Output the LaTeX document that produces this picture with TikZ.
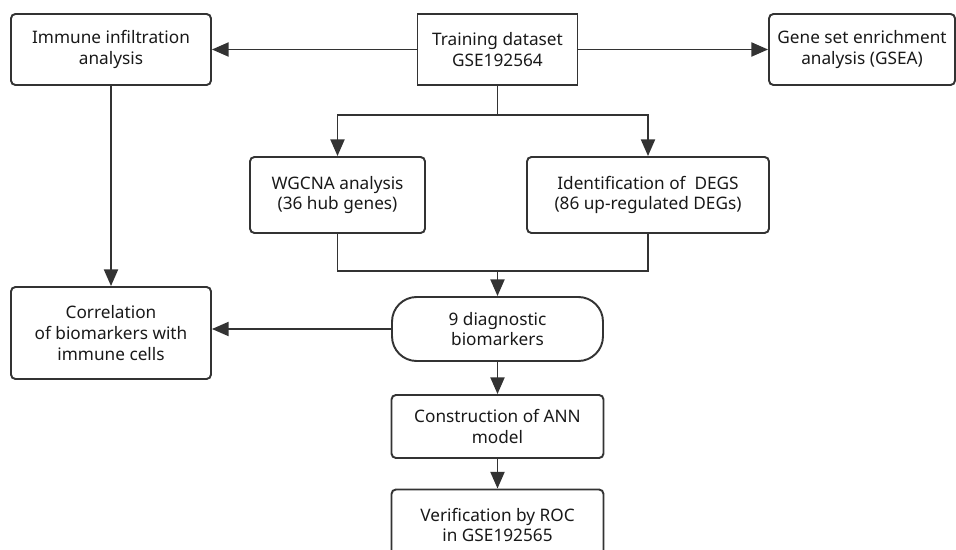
\documentclass[tikz,border=0pt]{standalone}
\usepackage{fontspec}
\setmainfont{Noto Sans}
\usetikzlibrary{arrows.meta}

\begin{document}
\begin{tikzpicture}[x=0.02cm,y=-0.02cm]
\tikzstyle{every node}+=[inner sep=0pt,align=center,font=\fontsize{9.8}{11.8}\selectfont,text=black!90]
\tikzstyle{box}=[draw=black!80,line width=1.1pt,rounded corners=2.5pt,minimum height=1.42cm]
\tikzstyle{sqbox}=[draw=black!80,line width=1.1pt,minimum height=1.42cm]
\tikzstyle{term}=[draw=black!80,line width=1.1pt,rounded corners=14pt,minimum height=1.28cm]
\tikzstyle{arr}=[draw=black!80,line width=1.1pt,-{Triangle[length=9.5pt,width=8pt]}]
\tikzstyle{line}=[draw=black!80,line width=1.1pt]
\useasboundingbox (0,0) rectangle (956,550);
\clip (0,0) rectangle (956,550);
\node [box,minimum width=4cm] (imm) at (111,49.5) {Immune infiltration\\analysis};
\node [sqbox,minimum width=3.2cm] (train) at (497.5,49.5) {Training dataset\\GSE192564};
\node [box,minimum width=3.72cm] (gsea) at (862,49.5) {Gene set enrichment\\analysis (GSEA)};
\node [box,minimum width=3.5cm,minimum height=1.52cm] (wgcna) at (337.5,195) {WGCNA analysis\\(36 hub genes)};
\node [box,minimum width=4.84cm,minimum height=1.52cm] (degs) at (648,195) {Identification of\ \ DEGS\\(86 up-regulated DEGs)};
\node [box,minimum width=4cm,minimum height=1.84cm] (corr) at (111,333) {Correlation\\of biomarkers with\\immune cells};
\node [term,minimum width=4.22cm] (diag) at (497.5,329) {9 diagnostic\\biomarkers};
\node [box,minimum width=4.24cm,minimum height=1.26cm] (ann) at (497.5,426.5) {Construction of ANN\\model};
\node [box,minimum width=4.24cm] (roc) at (497.5,525) {Verification by ROC\\in GSE192565};
\coordinate (split) at (497.5,115);
\coordinate (merge) at (497.5,271);
\draw [arr] (train.west) -- (imm.east);
\draw [arr] (train.east) -- (gsea.west);
\draw [line] (train.south) -- (split);
\draw [arr] (split) -| (wgcna.north);
\draw [arr] (split) -| (degs.north);
\draw [line] (wgcna.south) |- (merge) -| (degs.south);
\draw [arr] (merge) -- (diag.north);
\draw [arr] (imm.south) -- (corr.north);
\draw [arr] (diag.west) -- (diag.west -| corr.east);
\draw [arr] (diag.south) -- (ann.north);
\draw [arr] (ann.south) -- (roc.north);
\end{tikzpicture}
\end{document}
